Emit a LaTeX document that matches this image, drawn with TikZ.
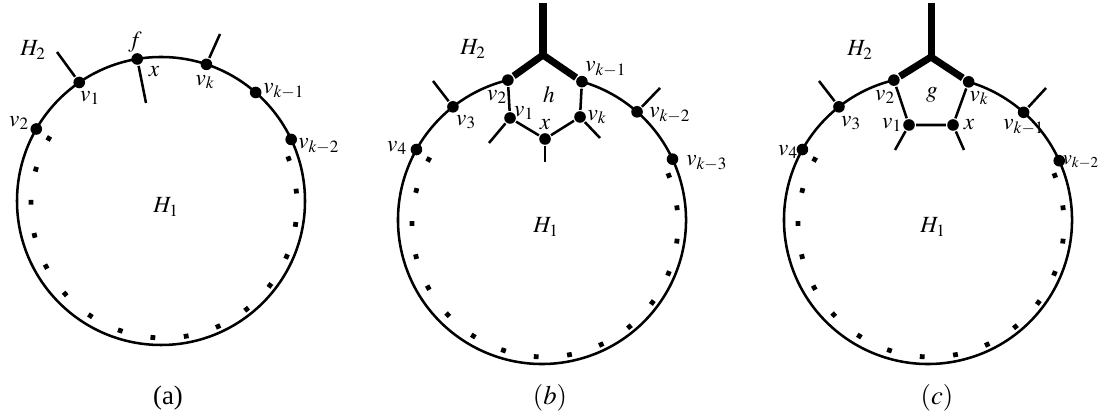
\documentclass[tikz,border=0pt]{standalone}
\usepackage{mathptmx}
\usepackage{fontspec}
\setmainfont{Liberation Serif}
\begin{document}
\begin{tikzpicture}[x=0.025cm,y=0.025cm,line width=1.8pt,
        vert/.style={circle,fill,inner sep=0pt,minimum size=0.29cm},
        heavy/.style={line width=5pt,line join=round},
        lbl/.style={inner sep=0pt,font=\fontsize{16.5}{19}\selectfont},
        captxt/.style={inner sep=0pt,font=\fontsize{19}{22}\selectfont}]
        \useasboundingbox (0,0) rectangle (1102,418);
        % (a)
        \coordinate (ca) at (161,217);
        \node[vert] (a2) at ([shift={(ca)}]150:144) {};
        \node[vert] (a1) at ([shift={(ca)}]124.6:144) {};
        \node[vert] (af) at ([shift={(ca)}]99.5:144) {};
        \node[vert] (ak) at ([shift={(ca)}]71.6:144) {};
        \node[vert] (ak1) at ([shift={(ca)}]48.9:144) {};
        \node[vert] (ak2) at ([shift={(ca)}]25.3:144) {};
        \coordinate (pa1) at (57,366);
        \coordinate (paf) at (146,315);
        \coordinate (pak) at (220,384);
        \draw (ca) circle (144);
        \draw (a1) -- (pa1);
        \draw (af) -- (paf);
        \draw (ak) -- (pak);
        \foreach \i in {0,...,16}
                \fill[shift={(164,213)},rotate={150+14.4*\i}] (130.6,-2.4) rectangle (135.4,2.4);
        \node[lbl] (aH2) at (33,368) {$H_2$};
        \node[lbl] (lf) at (135,376) {$f$};
        \node[lbl] (lax) at (154,346) {$x$};
        \node[lbl] (lak) at (205,336) {$v_k$};
        \node[lbl] (la1) at (90,320) {$v_1$};
        \node[lbl,anchor=west] (lak1) at (262,327) {$v_{k-1}$};
        \node[lbl,anchor=west] (lak2) at (297,272) {$v_{k-2}$};
        \node[lbl] (la2) at (19,295) {$v_2$};
        \node[lbl] (aH1) at (166,211) {$H_1$};
        \node[captxt] (capa) at (168,20) {(a)};
        % (b)
        \coordinate (cb) at (542,198);
        \node[vert] (b4) at ([shift={(cb)}]150.7:144) {};
        \node[vert] (b3) at ([shift={(cb)}]128.2:144) {};
        \node[vert] (b2) at ([shift={(cb)}]103.7:144) {};
        \node[vert] (bk1) at ([shift={(cb)}]73.9:144) {};
        \node[vert] (bk2) at ([shift={(cb)}]48.7:144) {};
        \node[vert] (bk3) at ([shift={(cb)}]25:144) {};
        \node[vert] (b1) at (510,300) {};
        \node[vert] (bx) at (545,279) {};
        \node[vert] (bk) at (580,301) {};
        \coordinate (bj) at (543,363);
        \coordinate (bt) at (543,415);
        \coordinate (pb1) at (489,275);
        \coordinate (pbx) at (545,256);
        \coordinate (pbk) at (600,280);
        \coordinate (pb3) at (433,337);
        \coordinate (pbk2) at (660,330);
        \draw ([shift={(cb)}]103.7:144) arc[start angle=103.7,end angle=433.9,radius=144];
        \draw[heavy] (b2) -- (bj) -- (bk1);
        \draw[heavy] (bj) -- (bt);
        \draw (b2) -- (b1) -- (bx) -- (bk) -- (bk1);
        \draw (b1) -- (pb1);
        \draw (bx) -- (pbx);
        \draw (bk) -- (pbk);
        \draw (b3) -- (pb3);
        \draw (bk2) -- (pbk2);
        \foreach \i in {0,...,16}
                \fill[shift={(545,194)},rotate={151+14.4*\i}] (130.6,-2.4) rectangle (135.4,2.4);
        \node[lbl] (bH2) at (473,369) {$H_2$};
        \node[lbl,anchor=west] (lbk1) at (584,349) {$v_{k-1}$};
        \node[lbl] (lh) at (549,323) {$h$};
        \node[lbl] (lb2) at (497,321) {$v_2$};
        \node[lbl] (lb1) at (524,305) {$v_1$};
        \node[lbl] (lbx) at (545,293) {$x$};
        \node[lbl] (lbk) at (597,301) {$v_k$};
        \node[lbl] (lb3) at (466,296) {$v_3$};
        \node[lbl] (lb4) at (397,270) {$v_4$};
        \node[lbl,anchor=west] (lbk2) at (648,303) {$v_{k-2}$};
        \node[lbl,anchor=west] (lbk3) at (685,255) {$v_{k-3}$};
        \node[lbl] (bH1) at (546,191) {$H_1$};
        \node[captxt] (capb) at (550,20) {$(b)$};
        % (c)
        \coordinate (cc) at (928,198);
        \node[vert] (c4) at ([shift={(cc)}]150.7:144) {};
        \node[vert] (c3) at ([shift={(cc)}]128.2:144) {};
        \node[vert] (c2) at ([shift={(cc)}]103.7:144) {};
        \node[vert] (ck) at ([shift={(cc)}]73.6:144) {};
        \node[vert] (ck1) at ([shift={(cc)}]48.4:144) {};
        \node[vert] (ck2) at ([shift={(cc)}]24.3:144) {};
        \node[vert] (c1) at (909,293) {};
        \node[vert] (cx) at (953,293) {};
        \coordinate (cj) at (931,361);
        \coordinate (ct) at (931,415);
        \coordinate (pc1) at (895,268);
        \coordinate (pcx) at (964,268);
        \coordinate (pc3) at (819,337);
        \coordinate (pck1) at (1046,330);
        \draw ([shift={(cc)}]103.7:144) arc[start angle=103.7,end angle=433.6,radius=144];
        \draw[heavy] (c2) -- (cj) -- (ck);
        \draw[heavy] (cj) -- (ct);
        \draw (c2) -- (c1) -- (cx) -- (ck);
        \draw (c1) -- (pc1);
        \draw (cx) -- (pcx);
        \draw (c3) -- (pc3);
        \draw (ck1) -- (pck1);
        \foreach \i in {0,...,16}
                \fill[shift={(931,194)},rotate={151+14.4*\i}] (130.6,-2.4) rectangle (135.4,2.4);
        \node[lbl] (cH2) at (860,368) {$H_2$};
        \node[lbl] (lg) at (932,323) {$g$};
        \node[lbl] (lc2) at (885,321) {$v_2$};
        \node[lbl] (lck) at (979,320) {$v_k$};
        \node[lbl] (lc1) at (892,293) {$v_1$};
        \node[lbl] (lcx) at (969,293) {$x$};
        \node[lbl] (lc3) at (851,295) {$v_3$};
        \node[lbl] (lc4) at (788,266) {$v_4$};
        \node[lbl,anchor=west] (lck1) at (1002,291) {$v_{k-1}$};
        \node[lbl,anchor=east,font=\fontsize{14.5}{17}\selectfont] (lck2) at (1100,256) {$v_{k-2}$};
        \node[lbl] (cH1) at (933,191) {$H_1$};
        \node[captxt] (capc) at (937,20) {$(c)$};
        \end{tikzpicture}
\end{document}
